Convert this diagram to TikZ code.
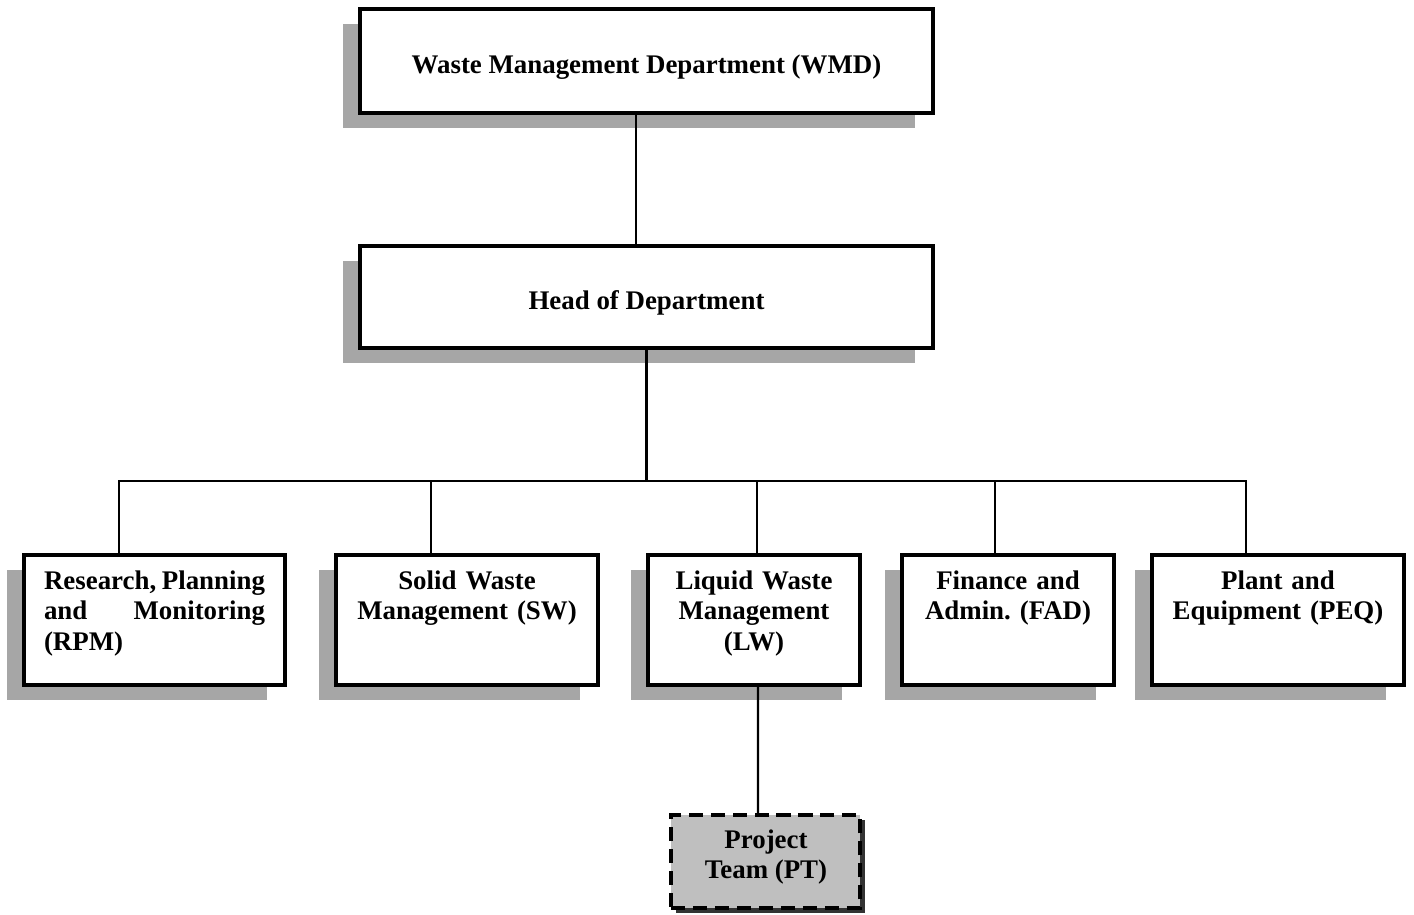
\documentclass[tikz,border=0pt]{standalone}
\usepackage{fontspec}
\setmainfont{Liberation Serif}
\usetikzlibrary{shadows}
\frenchspacing
\begin{document}
\begin{tikzpicture}[x=0.02cm,y=-0.02cm,
    unit/.style={draw,line width=2.3pt,fill=white,
      general shadow={shadow xshift=-0.35cm,shadow yshift=-0.3cm,fill=gray!70}},
    team/.style={draw,line width=2.3pt,dash pattern=on 8pt off 4.5pt,fill=gray!50,
      general shadow={shadow xshift=0.1cm,shadow yshift=-0.1cm,fill=black!80}},
    caption/.style={font=\bfseries\fontsize{15.3}{17.6}\selectfont,inner sep=0pt},
    link/.style={line width=1.2pt}]
  \useasboundingbox (0,0) rectangle (1414,914);
  \node[unit,minimum width=11.46cm,minimum height=2.08cm] (wmd) at (646.5,61) {};
  \node[unit,minimum width=11.46cm,minimum height=2.04cm] (head) at (646.5,297) {};
  \node[unit,minimum width=5.22cm,minimum height=2.6cm] (rpm) at (154.5,620) {};
  \node[unit,minimum width=5.24cm,minimum height=2.6cm] (sw) at (467,620) {};
  \node[unit,minimum width=4.24cm,minimum height=2.6cm] (lw) at (754,620) {};
  \node[unit,minimum width=4.24cm,minimum height=2.6cm] (fad) at (1008,620) {};
  \node[unit,minimum width=5.04cm,minimum height=2.6cm] (peq) at (1278,620) {};
  \node[team,minimum width=3.78cm,minimum height=1.86cm] (pt) at (765.5,861.5) {};
  \node[caption] (wmdtext) at (646.5,67) {Waste Management Department (WMD)};
  \node[caption] (headtext) at (646.5,303) {Head of Department};
  \begin{scope}[every node/.append style={caption,anchor=north}]
    \node[text width=4.42cm,align=left] (rpmtext) at ([yshift=-0.34cm]rpm.north)
      {Research,\hfill Planning\\ and\hfill Monitoring\\ (RPM)};
    \node[text width=4.8cm,align=center] (swtext) at ([yshift=-0.34cm]sw.north)
      {Solid Waste\\ Management (SW)};
    \node[text width=3.9cm,align=center] (lwtext) at ([yshift=-0.34cm]lw.north)
      {Liquid Waste\\ Management\\ (LW)};
    \node[text width=3.9cm,align=center] (fadtext) at ([yshift=-0.34cm]fad.north)
      {Finance and\\ Admin. (FAD)};
    \node[text width=4.7cm,align=center] (peqtext) at ([yshift=-0.34cm]peq.north)
      {Plant and\\ Equipment (PEQ)};
  \end{scope}
  \node[caption,align=center] (pttext) at (766,857) {Project\\ Team (PT)};
  \coordinate (bus) at (646.5,481);
  \begin{scope}[link]
    \draw ([xshift=-0.21cm]wmd.south) -- ([xshift=-0.21cm]head.north);
    \draw (head.south) -- (bus);
    \draw (bus) -| ([xshift=-0.71cm]rpm.north);
    \draw (bus) -| ([xshift=-0.72cm]sw.north);
    \draw (bus) -| ([xshift=0.06cm]lw.north);
    \draw (bus) -| ([xshift=-0.26cm]fad.north);
    \draw (bus) -| ([xshift=-0.64cm]peq.north);
    \draw ([xshift=0.08cm]lw.south) -- ([xshift=-0.15cm]pt.north);
  \end{scope}
\end{tikzpicture}
\end{document}
